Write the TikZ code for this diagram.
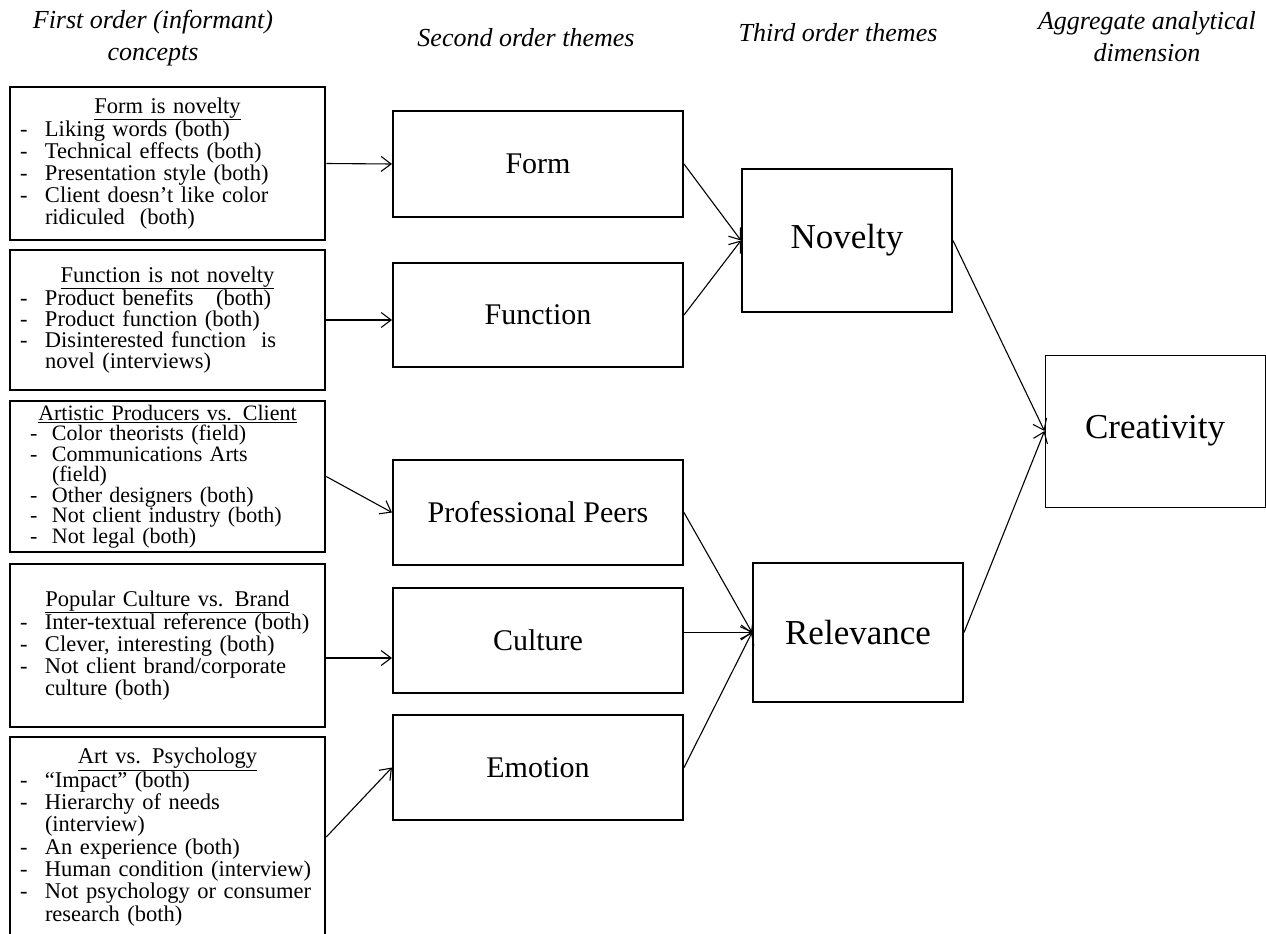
\documentclass[tikz,border=0pt]{standalone}
\usepackage{fontspec}
\setmainfont{Liberation Serif}
\usetikzlibrary{arrows.meta,calc}
\newlength\mydashoff
\newlength\mytextoff
\setlength\mydashoff{2pt}
\setlength\mytextoff{27pt}
\newcommand\btitle[1]{\makebox[\linewidth][c]{\underline{#1}}\par}
\newcommand\dl[1]{\makebox[\linewidth][l]{\makebox[\mytextoff][l]{\hspace*{\mydashoff}-}#1}\par}
\newcommand\cl[1]{\makebox[\linewidth][l]{\hspace*{\mytextoff}#1}\par}
\begin{document}
\begin{tikzpicture}[x=1pt,y=-1pt,
  lbox/.style={draw, line width=2.5pt, minimum width=315pt, text width=299pt,
    inner xsep=8pt, inner ysep=0pt, align=left},
  sbox/.style={draw, line width=2pt, minimum width=290pt, minimum height=105pt,
    font=\fontsize{30}{36}\selectfont},
  tbox/.style={draw, line width=2pt, minimum width=210pt,
    font=\fontsize{35}{42}\selectfont},
  hdr/.style={font=\fontsize{26}{32}\selectfont\itshape, align=center},
  conn/.style={line width=1.1pt, -{Straight Barb[length=10pt,width=15pt]}}
]
\useasboundingbox[fill=white] (0,0) rectangle (1266,934);

% headers
\node[hdr] (h1) at (153,38) {First order (informant)\\concepts};
\node[hdr] (h2) at (526,38) {Second order themes};
\node[hdr] (h3) at (838,33) {Third order themes};
\node[hdr] (h4) at (1147,37) {Aggregate analytical\\dimension};

% first order boxes
\node[lbox, minimum height=153pt, font=\fontsize{22.5}{22}\selectfont] (L1) at (167.5,163.5) {%
\btitle{Form is novelty}
\dl{Liking words (both)}
\dl{Technical effects (both)}
\dl{Presentation style (both)}
\dl{Client doesn’t like color}
\cl{ridiculed\ \ (both)}};

\node[lbox, minimum height=140pt, font=\fontsize{22.5}{21}\selectfont] (L2) at (167.5,320) {%
\btitle{Function is not novelty}
\dl{Product benefits\ \ \ (both)}
\dl{Product function (both)}
\dl{Disinterested function\ \ is}
\cl{novel (interviews)}};

\node[lbox, minimum height=151pt, font=\fontsize{22}{20.5}\selectfont] (L3) at (167.5,476.5) {%
\setlength\mydashoff{12pt}\setlength\mytextoff{34pt}%
\btitle{Artistic Producers vs. Client}
\dl{Color theorists (field)}
\dl{Communications Arts}
\cl{(field)}
\dl{Other designers (both)}
\dl{Not client industry (both)}
\dl{Not legal (both)}};

\node[lbox, minimum height=163pt, font=\fontsize{22.5}{22}\selectfont] (L4) at (167.5,645.5) {%
\btitle{Popular Culture vs. Brand}
\dl{Inter-textual reference (both)}
\dl{Clever, interesting (both)}
\dl{Not client brand/corporate}
\cl{culture (both)}};

\node[lbox, minimum height=200pt, font=\fontsize{22.5}{22.3}\selectfont] (L5) at (167.5,837) {%
\btitle{Art vs. Psychology}
\dl{“Impact” (both)}
\dl{Hierarchy of needs}
\cl{(interview)}
\dl{An experience (both)}
\dl{Human condition (interview)}
\dl{Not psychology or consumer}
\cl{research (both)}};

% second order
\node[sbox, minimum height=106pt] (form) at (538,164) {Form};
\node[sbox, minimum height=104pt] (func) at (538,315) {Function};
\node[sbox] (prof) at (538,512.5) {Professional Peers};
\node[sbox] (cult) at (538,640.5) {Culture};
\node[sbox] (emo) at (538,767.5) {Emotion};

% third order
\node[tbox, minimum height=143pt] (nov) at (847,240.5) {Novelty};
\node[tbox, minimum height=139pt] (rel) at (858,632.5) {Relevance};

% aggregate
\node[draw, line width=1pt, minimum width=220pt, minimum height=152pt,
  font=\fontsize{35}{42}\selectfont] (crea) at (1155,431) {Creativity};

% connectors
\draw[conn] (L1.east) -- (form.west);
\draw[conn] (L2.east) -- (L2.east -| func.west);
\draw[conn] (L3.east) -- (prof.west);
\draw[conn] ([yshift=-12.5pt]L4.east) -- ([yshift=-12.5pt]L4.east -| cult.west);
\draw[conn] (L5.east) -- (emo.west);

\draw[conn] (form.east) -- (nov.west);
\draw[conn] (func.east) -- (nov.west);
\draw[conn] (prof.east) -- (rel.west);
\draw[conn] (rel.west -| cult.east) -- (rel.west);
\draw[conn] (emo.east) -- (rel.west);

\draw[conn] (nov.east) -- (crea.west);
\draw[conn] (rel.east) -- (crea.west);
\end{tikzpicture}
\end{document}
